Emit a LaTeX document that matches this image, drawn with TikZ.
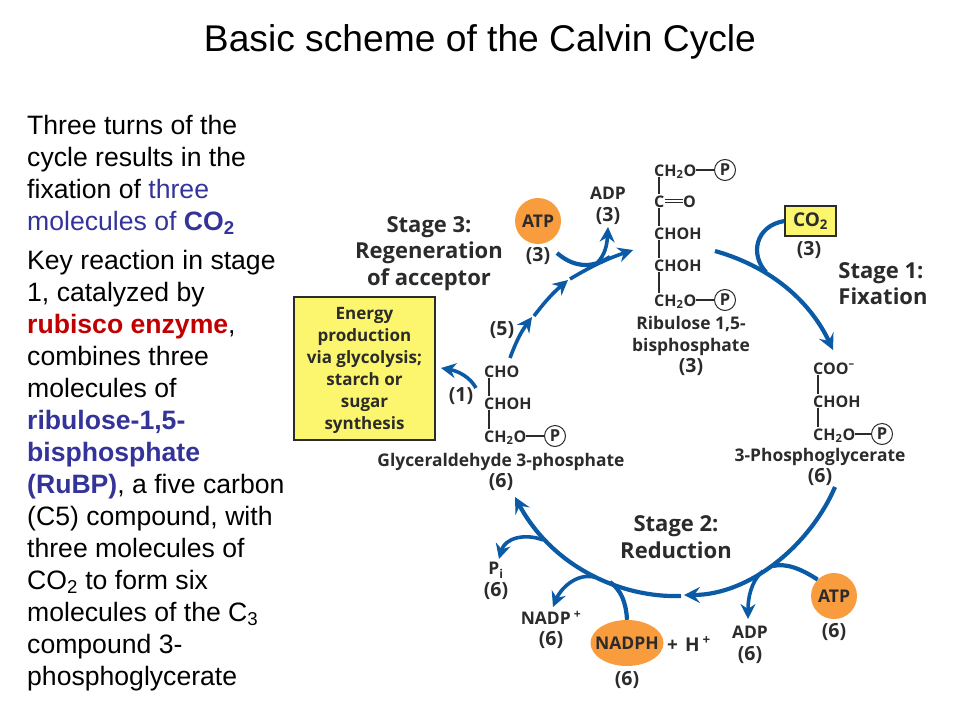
\documentclass[tikz,border=0pt]{standalone}
\usepackage{fontspec}
\setmainfont{Liberation Sans}
\newfontfamily\figfont{Open Sans}
\usetikzlibrary{arrows.meta,shapes.geometric}
\definecolor{cycleblue}{HTML}{0B5AA5}
\definecolor{atporange}{HTML}{F89C3E}
\definecolor{boxyellow}{HTML}{FBF66E}
\definecolor{figtext}{HTML}{2B2B2B}
\definecolor{noteblue}{HTML}{333399}
\definecolor{notered}{HTML}{C00000}
\newcommand{\cnt}[1]{{\fontsize{19.5}{21.5}\selectfont(#1)}}
\tikzset{
  cycle/.style={draw=cycleblue,line width=4.2pt},
  cycletip/.style={cycle,-{Stealth[length=16pt,width=16pt,inset=6pt]}},
  branchtip/.style={draw=cycleblue,line width=3.6pt,-{Stealth[length=15pt,width=15pt,inset=5pt]}},
  chem/.style={inner sep=0pt,anchor=west,text=figtext,font=\figfont\bfseries\fontsize{16}{16}\selectfont,text height=12pt,text depth=0pt},
  lab/.style={inner sep=0pt,align=center,text=figtext,font=\figfont\bfseries\fontsize{17.4}{21.5}\selectfont},
  stagelab/.style={inner sep=0pt,align=center,text=figtext,font=\figfont\bfseries\fontsize{22}{26.5}\selectfont},
  bond/.style={draw=figtext,line width=1.3pt},
  phos/.style={draw=figtext,circle,line width=1pt,inner sep=0pt,minimum size=21pt,text=figtext,font=\figfont\bfseries\fontsize{16.5}{16.5}\selectfont},
  energy/.style={fill=atporange,circle,inner sep=0pt,text=figtext,font=\figfont\bfseries\fontsize{17.5}{17.5}\selectfont},
  yellowbox/.style={draw=figtext,line width=1.5pt,fill=boxyellow,inner sep=0pt,text=figtext,align=center},
  note/.style={inner sep=0pt,anchor=north west,align=left,font=\fontsize{26.6}{32}\selectfont},
}
\begin{document}
\begin{tikzpicture}[x=1pt,y=-1pt]
  \useasboundingbox (0,0) rectangle (960,720);
  \node[inner sep=0pt,font=\fontsize{37.2}{37.2}\selectfont] (title) at (480,42) {Basic scheme of the Calvin Cycle};
  \node[note] (noteA) at (27,115) {Three turns of the\\cycle results in the\\fixation of \textcolor{noteblue}{three}\\\textcolor{noteblue}{molecules of \textbf{CO\textsubscript{2}}}};
  \node[note] (noteB) at (27,250) {Key reaction in stage\\1, catalyzed by\\\textcolor{notered}{\textbf{rubisco enzyme}}, \\combines three\\molecules of\\\textcolor{noteblue}{\textbf{ribulose-1,5-}}\\\textcolor{noteblue}{\textbf{bisphosphate}}\\\textcolor{noteblue}{\textbf{(RuBP)}}, a five carbon\\(C5) compound, with\\three molecules of\\CO\textsubscript{2} to form six\\molecules of the C\textsubscript{3}\\compound 3-\\phosphoglycerate};

  % ribulose
  \node[chem] (ruA) at (654,170) {CH\textsubscript{2}O};
  \node[phos] (ruAp) at (725,170) {P};
  \node[chem] (ruB) at (654,201) {C};
  \node[chem] (ruBo) at (683,201) {O};
  \node[chem] (ruC) at (654,233) {CHOH};
  \node[chem] (ruD) at (654,265) {CHOH};
  \node[chem] (ruE) at (654,300) {CH\textsubscript{2}O};
  \node[phos] (ruEp) at (725,300) {P};
  \draw[bond] (ruA) -- (ruAp);
  \draw[bond] (ruE) -- (ruEp);
  \draw[bond,double,double distance=2pt,line width=1pt] (ruB.east) -- (ruBo.west);
  \foreach \a/\b in {ruA/ruB,ruB/ruC,ruC/ruD,ruD/ruE}
    \draw[bond,shorten <=1pt,shorten >=1pt] ([xshift=5pt]\a.south west) -- ([xshift=5pt]\b.north west);
  \node[lab] (ruName) at (691,346) {Ribulose 1,5-\\bisphosphate\\\cnt{3}};

  % phosphoglycerate
  \node[chem] (pgA) at (813,368) {COO\textsuperscript{–}};
  \node[chem] (pgB) at (813,401) {CHOH};
  \node[chem] (pgC) at (813,434) {CH\textsubscript{2}O};
  \node[phos] (pgCp) at (882,434) {P};
  \draw[bond] (pgC) -- (pgCp);
  \draw[bond,shorten <=1pt,shorten >=1pt] ([xshift=5pt]pgA.south west) -- ([xshift=5pt]pgB.north west);
  \draw[bond,shorten <=1pt,shorten >=1pt] ([xshift=5pt]pgB.south west) -- ([xshift=5pt]pgC.north west);
  \node[lab] (pgName) at (820,467) {3-Phosphoglycerate\\\cnt{6}};

  % glyceraldehyde
  \node[chem] (gaA) at (484,371) {CHO};
  \node[chem] (gaB) at (484,403) {CHOH};
  \node[chem] (gaC) at (484,436) {CH\textsubscript{2}O};
  \node[phos] (gaCp) at (555,436) {P};
  \draw[bond] (gaC) -- (gaCp);
  \draw[bond,shorten <=1pt,shorten >=1pt] ([xshift=5pt]gaA.south west) -- ([xshift=5pt]gaB.north west);
  \draw[bond,shorten <=1pt,shorten >=1pt] ([xshift=5pt]gaB.south west) -- ([xshift=5pt]gaC.north west);
  \node[lab] (gaName) at (501,472) {Glyceraldehyde 3-phosphate\\\cnt{6}};

  % boxes and cofactors
  \node[yellowbox,minimum width=51pt,minimum height=30pt,font=\figfont\bfseries\fontsize{19}{19}\selectfont] (co2box) at (810.5,221) {CO\textsubscript{2}};
  \node[lab] (co2num) at (809,250) {\cnt{3}};
  \node[yellowbox,minimum width=141pt,minimum height=143pt,font=\figfont\bfseries\fontsize{17}{22}\selectfont] (energybox) at (364.5,368.5) {\rule{0pt}{16pt}Energy\\production\\via glycolysis;\\starch or\\sugar\\synthesis};
  \node[energy,minimum size=46pt] (atpTop) at (538,221) {ATP};
  \node[lab] (atpTopNum) at (538,256) {\cnt{3}};
  \node[lab] (adpTop) at (608,206) {ADP\\\cnt{3}};
  \node[energy,minimum size=46pt] (atpBot) at (834,596) {ATP};
  \node[lab] (atpBotNum) at (834,632) {\cnt{6}};
  \node[lab] (adpBot) at (750,645) {ADP\\\cnt{6}};
  \node[energy,ellipse,inner xsep=-6pt,inner ysep=0pt,minimum width=72pt,minimum height=46pt] (nadph) at (627,643) {NADPH};
  \node[lab] (nadphNum) at (627,680) {\cnt{6}};
  \node[lab,anchor=west,font=\figfont\bfseries\fontsize{19}{21.5}\selectfont] (hplus) at (667,644) {+\hspace{7pt}H\hspace{3pt}\textsuperscript{+}};
  \node[lab] (nadp) at (551,630) {NADP\hspace{3pt}\textsuperscript{+}\\\cnt{6}};
  \node[lab] (pi) at (496,581) {P\textsubscript{i}\\\cnt{6}};
  \node[lab] (five) at (502,330) {\cnt{5}};
  \node[lab] (one) at (461,396) {\cnt{1}};

  \node[stagelab,align=left] (stageA) at (883,283.5) {Stage 1:\\Fixation};
  \node[stagelab] (stageB) at (676,537) {Stage 2:\\Reduction};
  \node[stagelab] (stageC) at (429,253.5) {Stage 3:\\Regeneration\\of acceptor};

  % cycle
  \coordinate (fixS) at (715,251);
  \coordinate (fixE) at (833,350);
  \coordinate (fixJ) at (766,272);
  \coordinate (redS) at (835,487);
  \coordinate (redE) at (684,595);
  \coordinate (redJa) at (773,566);
  \coordinate (redJb) at (763,571);
  \coordinate (sndS) at (681,596);
  \coordinate (sndE) at (515,497);
  \coordinate (sndJa) at (610,582);
  \coordinate (sndJb) at (594,577);
  \coordinate (sndJc) at (543,540);
  \coordinate (regA) at (510,358);
  \coordinate (regB) at (532,317);
  \coordinate (regC) at (534,316);
  \coordinate (regD) at (568,280);
  \coordinate (regE) at (570,279);
  \coordinate (regF) at (633,250);
  \coordinate (regJa) at (610,257);
  \coordinate (regJb) at (597,263);
  \coordinate (atpIn) at (557,253);
  \coordinate (adpEnd) at (608,227);
  \coordinate (adpBotEnd) at (748,619);
  \coordinate (nadpEnd) at (553,607);
  \coordinate (piEnd) at (499,559);
  \coordinate (oneS) at (476,388);
  \coordinate (oneE) at (441,368);

  \draw[cycletip] (fixS) .. controls (775,268) and (812,305) .. (fixE);
  \draw[cycle] (co2box.west) .. controls (755,226) and (750,255) .. (fixJ);
  \draw[cycletip] (redS) .. controls (810,545) and (750,595) .. (redE);
  \draw[cycle] (atpBot.135) .. controls (800,568) and (785,563) .. (redJa);
  \draw[branchtip] (redJb) .. controls (750,582) and (748,600) .. (adpBotEnd);
  \draw[cycletip] (sndS) .. controls (620,598) and (552,566) .. (sndE);
  \draw[cycle] (nadph.north) .. controls (626,602) and (621,590) .. (sndJa);
  \draw[branchtip] (sndJb) .. controls (575,573) and (560,590) .. (nadpEnd);
  \draw[branchtip] (sndJc) .. controls (525,533) and (505,538) .. (piEnd);
  \draw[branchtip] (regA) to[bend left=8] (regB);
  \draw[branchtip] (regC) to[bend left=6] (regD);
  \draw[branchtip] (regE) to[bend left=6] (regF);
  \draw[cycle] (atpIn) .. controls (572,266) and (590,270) .. (regJa);
  \draw[branchtip] (regJb) .. controls (605,255) and (607,245) .. (adpEnd);
  \draw[branchtip] (oneS) .. controls (470,377) and (458,371) .. (oneE);
\end{tikzpicture}
\end{document}
